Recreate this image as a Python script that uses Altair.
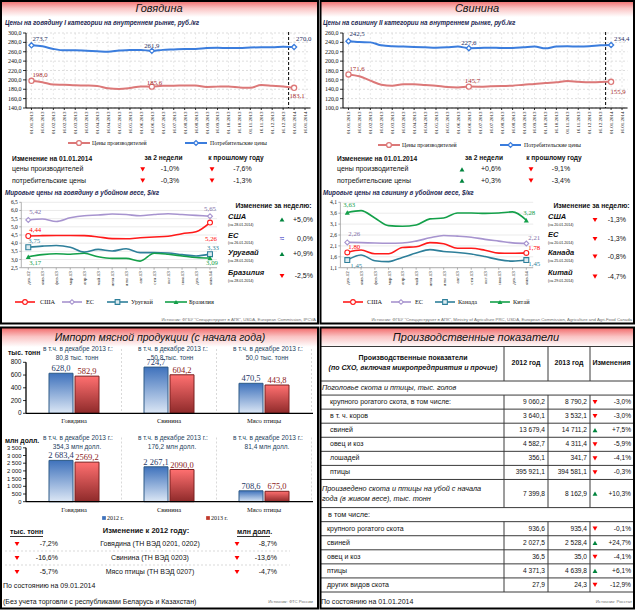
import altair as alt
import pandas as pd

W, H = 635, 612
SANS = "Liberation Sans, Arial, sans-serif"
NARROW = "Liberation Sans Narrow, Liberation Sans, Arial, sans-serif"
SERIF = "Liberation Serif, Times New Roman, serif"
INK = "#111111"
NAVY = "#1B2550"
RED = "#FF0000"
GREEN = "#00843D"
GRAY = "#707070"

# ------------------------------------------------------------------ data
price_dates = ["01.01.2013", "16.01.2013", "01.02.2013", "16.02.2013", "01.03.2013", "16.03.2013",
               "01.04.2013", "16.04.2013", "01.05.2013", "16.05.2013", "01.06.2013", "16.06.2013",
               "01.07.2013", "16.07.2013", "01.08.2013", "16.08.2013", "01.09.2013", "16.09.2013",
               "01.10.2013", "16.10.2013", "01.11.2013", "16.11.2013", "01.12.2013", "16.12.2013",
               "01.01.2014", "16.01.2014"]
beef_producer = [198.0, 195.0, 190.0, 189.5, 188.5, 188.0, 187.0, 182.0, 180.5, 182.5, 186.0, 185.6,
                 187.5, 187.5, 188.0, 188.0, 185.0, 185.6, 186.0, 184.0, 183.0, 189.0, 187.5, 186.0, 183.1]
beef_consumer = [273.7, 271.5, 266.0, 263.0, 263.0, 262.0, 261.0, 260.0, 262.5, 264.0, 264.0, 261.9,
                 264.0, 265.0, 266.0, 266.0, 268.0, 268.5, 268.0, 268.0, 269.0, 269.5, 269.5, 270.8, 270.0]
pork_producer = [171.6, 167.6, 158.3, 149.8, 147.6, 150.5, 150.5, 149.0, 147.6, 144.8, 144.0, 145.7,
                 145.5, 146.2, 147.0, 147.6, 149.8, 151.2, 153.3, 154.8, 157.6, 156.0, 154.8, 155.5, 155.9]
pork_consumer = [242.5, 240.8, 240.0, 233.7, 231.6, 231.0, 230.0, 229.4, 228.7, 229.4, 231.0, 227.6,
                 228.0, 228.7, 228.0, 228.0, 229.4, 231.0, 227.3, 231.0, 231.6, 231.0, 231.6, 233.7, 234.4]

months = ["дек.12", "янв.13", "фев.13", "мар.13", "апр.13", "май.13", "июн.13", "июл.13",
          "авг.13", "сен.13", "окт.13", "ноя.13", "дек.13", "янв.14"]
beef_usa = [4.44, 4.46, 4.47, 4.47, 4.46, 4.38, 4.28, 4.27, 4.33, 4.38, 4.42, 4.58, 4.70, 5.26]
beef_eu = [5.42, 5.48, 5.33, 5.55, 5.68, 5.72, 5.78, 5.75, 5.68, 5.75, 5.80, 5.75, 5.70, 5.65]
beef_uru = [3.75, 3.82, 3.86, 3.75, 3.45, 3.62, 3.52, 3.66, 3.42, 3.42, 3.40, 3.30, 3.22, 3.33]
beef_bra = [3.17, 3.30, 3.35, 3.32, 3.38, 3.17, 3.07, 3.07, 2.90, 3.38, 3.32, 3.22, 3.12, 3.09]
pork_usa = [1.80, 1.91, 1.74, 1.74, 2.03, 2.06, 2.25, 2.20, 1.99, 1.99, 1.90, 1.77, 1.76, 1.78]
pork_eu = [2.26, 2.25, 2.23, 2.22, 2.23, 2.32, 2.47, 2.58, 2.55, 2.50, 2.40, 2.32, 2.24, 2.21]
pork_can = [1.45, 1.68, 1.42, 1.38, 1.57, 1.77, 1.93, 1.84, 1.80, 1.73, 1.61, 1.47, 1.40, 1.45]
pork_china = [3.63, 3.72, 3.38, 3.03, 3.00, 3.06, 3.34, 3.38, 3.61, 3.61, 3.59, 3.61, 3.66, 3.28]

change_rows = ["цены производителей", "потребительские цены"]
beef_change_2w = [-1.0, -0.3]
beef_change_yoy = [-7.6, -1.3]
pork_change_2w = [0.6, 0.3]
pork_change_yoy = [-9.1, -3.4]

beef_countries = ["США", "ЕС", "Уругвай", "Бразилия"]
beef_week_change = [5.0, 0.0, 0.9, -2.5]
beef_week_dates = ["(на 28.01.2014)", "(на 26.01.2014)", "(на 28.01.2014)", "(на 28.01.2014)"]
pork_countries = ["США", "ЕС", "Канада", "Китай"]
pork_week_change = [-1.3, -1.3, -0.8, -4.7]
pork_week_dates = ["(на 20.01.2014)", "(на 20.01.2014)", "(на 25.01.2014)", "(на 29.01.2014)"]

import_cats = ["Говядина", "Свинина", "Мясо птицы"]
import_t_2012 = [628.0, 724.7, 470.5]
import_t_2013 = [582.9, 604.2, 443.8]
import_usd_2012 = [2683.4, 2267.1, 708.6]
import_usd_2013 = [2569.2, 2090.0, 675.0]
dec_t = [80.8, 50.8, 50.0]
dec_usd = [354.3, 176.2, 81.4]
import_codes = ["Говядина (ТН ВЭД 0201, 0202)", "Свинина (ТН ВЭД 0203)", "Мясо птицы (ТН ВЭД 0207)"]
import_change_t = [-7.2, -16.6, -5.7]
import_change_usd = [-8.7, -13.6, -4.7]

herd_names = ["крупного рогатого скота, в том числе:", "в т. ч. коров", "свиней", "овец и коз", "лошадей", "птицы"]
herd_2012 = [9060.2, 3640.1, 13679.4, 4582.7, 356.1, 395921.1]
herd_2013 = [8790.2, 3532.1, 14711.2, 4311.4, 341.7, 394581.1]
herd_change = [-3.0, -3.0, 7.5, -5.9, -4.1, -0.3]
slaughter_total = [7399.8, 8162.9, 10.3]
slaughter_names = ["крупного рогатого скота", "свиней", "овец и коз", "птицы", "других видов скота"]
slaughter_2012 = [936.6, 2027.5, 36.5, 4371.3, 27.9]
slaughter_2013 = [935.4, 2528.4, 35.0, 4639.8, 24.3]
slaughter_change = [-0.1, 24.7, -4.1, 6.1, -12.9]


def ru(v, d=1, space=True, sign=False):
    s = f"{abs(v):,.{d}f}".replace(",", " " if space else "").replace(".", ",")
    if v < 0:
        s = "-" + s
    elif sign and v > 0:
        s = "+" + s
    return s


# ------------------------------------------------------------------ helpers
L = []
ONE = pd.DataFrame({"k": [0]})


def txt(s, x, y, size=7, color=INK, font=SANS, bold=False, italic=False, align="left", baseline="middle"):
    kw = dict(fontSize=size, font=font, align=align, baseline=baseline, color=color)
    if bold:
        kw["fontWeight"] = "bold"
    if italic:
        kw["fontStyle"] = "italic"
    L.append(alt.Chart(ONE).mark_text(**kw).encode(x=alt.value(x), y=alt.value(y), text=alt.value(s)))


def rule(x, y, x2, y2, color="#000", width=1.0, dash=None):
    kw = dict(color=color, strokeWidth=width)
    if dash:
        kw["strokeDash"] = dash
    L.append(alt.Chart(ONE).mark_rule(**kw).encode(x=alt.value(x), y=alt.value(y),
                                                   x2=alt.value(x2), y2=alt.value(y2)))


def rect(x, y, x2, y2, fill="white", opacity=1.0, stroke=None, width=1.0):
    kw = dict(fill=fill, fillOpacity=opacity)
    if stroke:
        kw.update(stroke=stroke, strokeWidth=width)
    L.append(alt.Chart(ONE).mark_rect(**kw).encode(x=alt.value(x), y=alt.value(y),
                                                   x2=alt.value(x2), y2=alt.value(y2)))


def sym(shape, x, y, color, size=24, fill=None, sw=1.0):
    kw = dict(shape=shape, size=size, filled=True, color=color, opacity=1)
    if fill:
        kw.update(fill=fill, stroke=color, strokeWidth=sw)
    L.append(alt.Chart(ONE).mark_point(**kw).encode(x=alt.value(x), y=alt.value(y)))


def tri(v, x, y, size=24):
    if v > 0:
        sym("triangle-up", x, y, GREEN, size)
    elif v < 0:
        sym("triangle-down", x, y, RED, size)
    else:
        txt("≈", x, y, size=8, color="#3030C0", align="center")


def band(x, y, x2, y2):
    grad = alt.LinearGradient(gradient="linear",
                              stops=[alt.GradientStop(color="#F26B6B", offset=0),
                                     alt.GradientStop(color="#FAC3C3", offset=0.45),
                                     alt.GradientStop(color="#FFFFFF", offset=1)],
                              x1=0, x2=0, y1=0, y2=1)
    L.append(alt.Chart(ONE).mark_rect(fill=grad).encode(x=alt.value(x), y=alt.value(y),
                                                        x2=alt.value(x2), y2=alt.value(y2)))


def y_axis(ys, ticks, labels, x_axis, font, size, tick_color="#000", tick_len=3, pad=1.5):
    """tick labels and tick marks of a left axis, positioned through the scale ys"""
    d = pd.DataFrame({"v": ticks, "t": labels})
    Y = alt.Y("v:Q", scale=ys, axis=None)
    return [
        alt.Chart(d).mark_rule(color=tick_color, strokeWidth=0.8)
        .encode(y=Y, x=alt.value(x_axis - tick_len), x2=alt.value(x_axis)),
        alt.Chart(d).mark_text(font=font, fontSize=size, align="right", baseline="middle", color=INK)
        .encode(y=Y, x=alt.value(x_axis - tick_len - pad), text="t:N"),
    ]


def x_axis(xs, field, cats, y_axis_px, font, size, angle=270, tick_len=2, pad=1.5, tick_color="#000",
           xoff=0.0):
    d = pd.DataFrame({field: cats})
    X = alt.X(f"{field}:N", scale=xs, axis=None)
    out = []
    if tick_len:
        out.append(alt.Chart(d).mark_rule(color=tick_color, strokeWidth=0.8, xOffset=xoff)
                   .encode(x=X, y=alt.value(y_axis_px), y2=alt.value(y_axis_px + tick_len)))
    if angle:
        out.append(alt.Chart(d).mark_text(font=font, fontSize=size, angle=angle, align="right",
                                          baseline="middle", color=INK)
                   .encode(x=X, y=alt.value(y_axis_px + tick_len + pad), text=f"{field}:N"))
    else:
        out.append(alt.Chart(d).mark_text(font=font, fontSize=size, align="center", baseline="top",
                                          color=INK)
                   .encode(x=X, y=alt.value(y_axis_px + pad), text=f"{field}:N"))
    return out


PROD_C, CONS_C = "#DC7878", "#3B7DDD"
PROD_L, CONS_L = "#A52A2A", "#1F2F5F"


def price_chart(prod, cons, xr, yr, ydom, ticks, lab):
    n = len(prod)
    df = pd.DataFrame({"d": price_dates[:n], "prod": prod, "cons": cons})
    xs = alt.Scale(type="point", domain=price_dates, range=list(xr), padding=0.5)
    ys = alt.Scale(type="linear", domain=list(ydom), range=[yr[0], yr[1]], nice=False, zero=False)
    X = alt.X("d:N", scale=xs, axis=None)
    sub = [
        alt.Chart(pd.DataFrame({"v": ticks})).mark_rule(color="#CFCFCF", strokeDash=[2, 2], strokeWidth=0.7)
        .encode(y=alt.Y("v:Q", scale=ys, axis=None), x=alt.value(xr[0]), x2=alt.value(xr[1])),
        alt.Chart(pd.DataFrame({"d": price_dates})).mark_rule(color="#DADADA", strokeDash=[2, 2], strokeWidth=0.6)
        .encode(x=X, y=alt.value(yr[1]), y2=alt.value(yr[0])),
    ]
    sub += y_axis(ys, ticks, [ru(t) for t in ticks], xr[0], SERIF, 6)
    sub += x_axis(xs, "d", price_dates, yr[0], SERIF, 5)
    step = (xr[1] - xr[0]) / len(price_dates)
    sub.append(alt.Chart(pd.DataFrame({"d": ["16.12.2013"]}))
               .mark_rule(color="#000", strokeDash=[3, 2], strokeWidth=1, xOffset=step / 2)
               .encode(x=X, y=alt.value(yr[1] - 1), y2=alt.value(yr[0])))
    for col, color, shape, lcolor in [("prod", PROD_C, "circle", PROD_L), ("cons", CONS_C, "diamond", CONS_L)]:
        Y = alt.Y(f"{col}:Q", scale=ys, axis=None)
        sub.append(alt.Chart(df).mark_line(interpolate="monotone", color=color, strokeWidth=2).encode(x=X, y=Y))
        idxs = [0, 11, n - 1]
        pts = df.iloc[idxs].copy()
        sub.append(alt.Chart(pts).mark_point(shape=shape, filled=True, fill="white", stroke=color,
                                             strokeWidth=1.3, size=26, opacity=1).encode(x=X, y=Y))
        for j, idx in enumerate(idxs):
            dx, dy, al = lab[col][j]
            p = df.iloc[[idx]].copy()
            p["t"] = ru(float(p[col].iloc[0]))
            sub.append(alt.Chart(p).mark_text(font=SERIF, fontSize=6.8, color=lcolor, dx=dx, dy=dy, align=al)
                       .encode(x=X, y=Y, text="t:N"))
    L.append(alt.layer(*sub))
    rule(xr[0], yr[1], xr[0], yr[0], "#000", 1)
    rule(xr[0], yr[0], xr[1], yr[0], "#000", 1)


WORLD_STYLE = [("#FF1A1A", "circle", "white"), ("#A794CF", "diamond", "white"),
               ("#2E7F9A", "square", "#DDEBF0"), ("#14A04A", "triangle-up", None)]
WORLD_LAB = ["#FF0000", "#7F6FA8", "#2E7F9A", "#14A04A"]


def world_chart(series, xr, yr, ydom, ticks, lab):
    xs = alt.Scale(type="point", domain=months, range=list(xr), padding=0.5)
    ys = alt.Scale(type="linear", domain=list(ydom), range=[yr[0], yr[1]], nice=False, zero=False)
    sub = [alt.Chart(pd.DataFrame({"v": ticks})).mark_rule(color="#E2E2E2", strokeWidth=0.7)
           .encode(y=alt.Y("v:Q", scale=ys, axis=None), x=alt.value(xr[0]), x2=alt.value(xr[1]))]
    sub += y_axis(ys, ticks, [ru(t) for t in ticks], xr[0], SERIF, 5.5, tick_color="#999", tick_len=2)
    sub += x_axis(xs, "m", months, yr[0], SERIF, 5, tick_color="#999")
    for k, vals in enumerate(series):
        color, shape, fill = WORLD_STYLE[k]
        df = pd.DataFrame({"m": months, "v": vals})
        X = alt.X("m:N", scale=xs, axis=None)
        Y = alt.Y("v:Q", scale=ys, axis=None)
        sub.append(alt.Chart(df).mark_line(interpolate="monotone", color=color, strokeWidth=1.6).encode(x=X, y=Y))
        pts = df.iloc[[0, len(vals) - 1]].copy()
        if fill:
            pm = alt.Chart(pts).mark_point(shape=shape, filled=True, fill=fill, stroke=color, strokeWidth=1.1,
                                           size=24, opacity=1)
        else:
            pm = alt.Chart(pts).mark_point(shape=shape, filled=True, color=color, size=26, opacity=1)
        sub.append(pm.encode(x=X, y=Y))
        for j, idx in enumerate([0, len(vals) - 1]):
            dx, dy, al = lab[k][j]
            p = df.iloc[[idx]].copy()
            p["t"] = ru(float(p["v"].iloc[0]), 2)
            sub.append(alt.Chart(p).mark_text(font=SERIF, fontSize=6.8, color=WORLD_LAB[k], dx=dx, dy=dy, align=al)
                       .encode(x=X, y=Y, text="t:N"))
    L.append(alt.layer(*sub))
    rule(xr[0], yr[1], xr[0], yr[0], "#A0A0A0", 0.8)
    rule(xr[0], yr[0], xr[1], yr[0], "#A0A0A0", 0.8)


BLUE_GRAD = alt.LinearGradient(gradient="linear",
                               stops=[alt.GradientStop(color="#3F72BC", offset=0),
                                      alt.GradientStop(color="#DCE7F5", offset=1)],
                               x1=0, x2=0, y1=0, y2=1)
RED_GRAD = alt.LinearGradient(gradient="linear",
                              stops=[alt.GradientStop(color="#FF7070", offset=0),
                                     alt.GradientStop(color="#8E2A2A", offset=1)],
                              x1=0, x2=0, y1=0, y2=1)


def bar_chart(v12, v13, l12, l13, dec_line, yr, ydom, ticks, tick_labels, ann_y, ylab_size):
    xr = (26.5, 311.5)
    xs = alt.Scale(type="band", domain=import_cats, range=list(xr), paddingInner=0, paddingOuter=0)
    ys = alt.Scale(type="linear", domain=list(ydom), range=[yr[0], yr[1]], nice=False, zero=False)
    df = pd.DataFrame({"c": import_cats, "v12": v12, "v13": v13, "l12": l12, "l13": l13,
                       "a1": ["в т.ч. в декабре 2013 г.:"] * 3, "a2": dec_line})
    X = alt.X("c:N", scale=xs, axis=None)
    sub = [
        alt.Chart(df).mark_rule(color="#C8C8C8", strokeDash=[2, 2], strokeWidth=0.7, xOffset=47.5)
        .encode(x=X, y=alt.value(ann_y[0]), y2=alt.value(yr[0])),
        alt.Chart(df).mark_bar(fill=BLUE_GRAD, stroke="#2E5A86", strokeWidth=1, width=24, xOffset=-13)
        .encode(x=X, y=alt.Y("v12:Q", scale=ys, axis=None)),
        alt.Chart(df).mark_bar(fill=RED_GRAD, stroke="#7A2020", strokeWidth=1, width=24, xOffset=13)
        .encode(x=X, y=alt.Y("v13:Q", scale=ys, axis=None)),
        alt.Chart(df).mark_text(font=SERIF, fontSize=8.5, color="#1F3864", dy=-5, xOffset=-13)
        .encode(x=X, y=alt.Y("v12:Q", scale=ys, axis=None), text="l12:N"),
        alt.Chart(df).mark_text(font=SERIF, fontSize=8.5, color="#8B1A1A", dy=-5, xOffset=13)
        .encode(x=X, y=alt.Y("v13:Q", scale=ys, axis=None), text="l13:N"),
        alt.Chart(df).mark_text(font=NARROW, fontSize=6.5, color="#243F60", dx=4)
        .encode(x=X, y=alt.value(ann_y[0]), text="a1:N"),
        alt.Chart(df).mark_text(font=NARROW, fontSize=6.5, color="#243F60", dx=3)
        .encode(x=X, y=alt.value(ann_y[1]), text="a2:N"),
    ]
    sub += y_axis(ys, ticks, tick_labels, 26, SANS, ylab_size, tick_len=3, pad=1.5)
    sub += x_axis(xs, "c", import_cats, yr[0], SERIF, 6.5, angle=0, tick_len=0, pad=5)
    L.append(alt.layer(*sub))
    rule(26, yr[1], 26, yr[0], "#000", 1.3)
    rule(26, yr[0], 313, yr[0], "#000", 1.3)


# ------------------------------------------------------------------ backgrounds / bands
band(2, 1, 317, 17)
band(321, 1, 633, 17)
band(2, 328, 317, 347)
band(321, 328, 633, 347)

# ================================================================== TOP LEFT: beef
txt("Говядина", 159, 8.5, size=11, italic=True, align="center")
txt("Цены на говядину I категории на внутреннем рынке, руб./кг", 5, 23, size=6.3, bold=True, italic=True, color=NAVY)
price_chart(beef_producer, beef_consumer, (26, 310.5), (108, 33), (140, 300), list(range(140, 301, 20)),
            {"prod": [(1, -6, "left"), (-5, -4, "left"), (3, 8, "center")],
             "cons": [(1, -6, "left"), (0, -5, "center"), (2, -8, "left")]})
rule(68, 143, 90, 143, PROD_C, 2)
sym("circle", 79, 143, PROD_C, 24, fill="white", sw=1.3)
txt("Цены производителей", 92, 143, size=5.8, font=SERIF)
rule(185, 143, 207, 143, CONS_C, 2)
sym("diamond", 196, 143, CONS_C, 24, fill="white", sw=1.3)
txt("Потребительские цены", 210, 143, size=5.8, font=SERIF)

txt("Изменение на 01.01.2014", 12, 159, size=6.6, bold=True)
txt("за 2 недели", 163.5, 158, size=6.6, bold=True, align="center")
txt("к прошлому году", 236, 158, size=6.6, bold=True, align="center")
for r, (name, a, b) in enumerate(zip(change_rows, beef_change_2w, beef_change_yoy)):
    y = 169.3 + r * 11.4
    txt(name, 12, y, size=7)
    tri(a, 142.7, y)
    txt(ru(a, sign=True) + "%", 170, y, size=7, align="center")
    tri(b, 212, y)
    txt(ru(b, sign=True) + "%", 242.5, y, size=7, align="center")

txt("Мировые цены на говядину в убойном весе, $/кг", 5, 193, size=6.3, bold=True, italic=True, color=NAVY)
world_chart([beef_usa, beef_eu, beef_uru, beef_bra], (21.3, 217), (267.7, 202.3), (2.5, 6.5),
            [2.5, 3.0, 3.5, 4.0, 4.5, 5.0, 5.5, 6.0, 6.5],
            [[(1, -6, "left"), (1, 16, "center")],
             [(1, -8, "left"), (0, -7, "center")],
             [(0, -6, "left"), (3, -6, "center")],
             [(1, 6, "left"), (2, 5, "center")]])
txt("Изменение за неделю:", 273.5, 206, size=6.8, bold=True, align="center")
for k, (c, v, d) in enumerate(zip(beef_countries, beef_week_change, beef_week_dates)):
    ny = [217, 235.5, 253, 273][k]
    sy = [219.5, 239, 254, 276][k]
    txt(c, 228, ny, size=7.5, bold=True, italic=True)
    txt(d, 228, ny + 7.5, size=3.6)
    tri(v, 282, sy)
    txt(ru(v, sign=True) + "%", 313, sy, size=7, align="right")
leg_beef = [(15, 35, 40), (62, 82, 86), (107, 128, 131), (165, 187, 189)]
for k, name in enumerate(beef_countries):
    a, b, t = leg_beef[k]
    color, shape, fill = WORLD_STYLE[k]
    rule(a, 302, b, 302, color, 1.6)
    if fill:
        sym(shape, (a + b) / 2, 302, color, 22, fill=fill, sw=1.1)
    else:
        sym(shape, (a + b) / 2, 302, color, 24)
    txt(name, t, 302, size=6.3, font=SERIF)
txt('Источник: ФГБУ "Спеццентручет в АПК", USDA, European Commission, IPCVA', 316, 320, size=4.3,
    color=GRAY, align="right")

# ================================================================== TOP RIGHT: pork
txt("Свинина", 477, 8.5, size=11, italic=True, align="center")
txt("Цены на свинину II категории на внутреннем рынке, руб./кг", 323, 23, size=6.3, bold=True, italic=True,
    color=NAVY)
price_chart(pork_producer, pork_consumer, (343, 627.5), (108, 33), (100, 260), list(range(100, 261, 20)),
            {"prod": [(1, -5, "left"), (-4, -6, "left"), (7, 10, "center")],
             "cons": [(1, -7, "left"), (0, -5, "center"), (3, -6, "left")]})
rule(378, 145, 400, 145, PROD_C, 2)
sym("circle", 389, 145, PROD_C, 24, fill="white", sw=1.3)
txt("Цены производителей", 402, 145, size=5.8, font=SERIF)
rule(500, 145, 521, 145, CONS_C, 2)
sym("diamond", 510.5, 145, CONS_C, 24, fill="white", sw=1.3)
txt("Потребительские цены", 524, 145, size=5.8, font=SERIF)

txt("Изменение на 01.01.2014", 337, 159, size=6.6, bold=True)
txt("за 2 недели", 484, 158, size=6.6, bold=True, align="center")
txt("к прошлому году", 554, 158, size=6.6, bold=True, align="center")
for r, (name, a, b) in enumerate(zip(change_rows, pork_change_2w, pork_change_yoy)):
    y = 169.3 + r * 11.4
    txt(name, 337, y, size=7)
    tri(a, 462, y)
    txt(ru(a, sign=True) + "%", 491, y, size=7, align="center")
    tri(b, 531, y)
    txt(ru(b, sign=True) + "%", 561, y, size=7, align="center")

txt("Мировые цены на свинину в убойном весе, $/кг", 323, 193, size=6.3, bold=True, italic=True, color=NAVY)
world_chart([pork_usa, pork_eu, pork_can, pork_china], (340.4, 533.2), (267.7, 202.3), (1.1, 4.1),
            [1.1, 1.6, 2.1, 2.6, 3.1, 3.6, 4.1],
            [[(1, -5, "left"), (2, -5, "left")],
             [(1, -8, "left"), (2, -6, "left")],
             [(3, 6, "left"), (2, 4, "left")],
             [(2, -8, "center"), (3, -7, "center")]])
txt("Изменение за неделю:", 591.5, 206, size=6.8, bold=True, align="center")
for k, (c, v, d) in enumerate(zip(pork_countries, pork_week_change, pork_week_dates)):
    ny = [217, 235, 253.3, 273.3][k]
    sy = [220, 239, 256.7, 276.7][k]
    txt(c, 548, ny, size=7.5, bold=True, italic=True)
    txt(d, 548, ny + 8, size=3.6)
    tri(v, 595, sy)
    txt(ru(v, sign=True) + "%", 626, sy, size=7, align="right")
leg_pork = [(343, 363, 367), (391, 411, 415), (435, 455, 458), (490, 510, 513)]
for k, name in enumerate(pork_countries):
    a, b, t = leg_pork[k]
    color, shape, fill = WORLD_STYLE[k]
    rule(a, 302, b, 302, color, 1.6)
    if fill:
        sym(shape, (a + b) / 2, 302, color, 22, fill=fill, sw=1.1)
    else:
        sym(shape, (a + b) / 2, 302, color, 24)
    txt(name, t, 302, size=6.3, font=SERIF)
txt('Источник: ФГБУ "Спеццентручет в АПК", Ministry of Agriculture PRC, USDA, European Commission, '
    'Agriculture and Agri-Food Canada', 632, 320, size=4.3, color=GRAY, align="right")

# ================================================================== BOTTOM LEFT: imports
txt("Импорт мясной продукции (с начала года)", 160, 337.5, size=10.5, italic=True, align="center")
txt("тыс. тонн", 8, 353, size=6.8, bold=True)
bar_chart(import_t_2012, import_t_2013, [ru(v) for v in import_t_2012], [ru(v) for v in import_t_2013],
          [ru(v) + " тыс. тонн" for v in dec_t], (413.3, 362.3), (0, 800), [0, 200, 400, 600, 800],
          ["0", "200", "400", "600", "800"], (349, 357.5), 6.5)
txt("млн долл.", 5, 441, size=6.8, bold=True)
usd_ticks = list(range(0, 3501, 500))
bar_chart(import_usd_2012, import_usd_2013, [ru(v) for v in import_usd_2012],
          [ru(v, space=False) for v in import_usd_2013],
          [ru(v) + " млн долл." for v in dec_usd], (501.7, 447.8), (0, 3500), usd_ticks,
          [ru(t, 0) for t in usd_ticks], (437.5, 447), 5.8)
sym("square", 104, 518, "#3F72BC", 14)
txt("2012 г.", 107, 518, size=6, font=SERIF)
sym("square", 208, 518, "#C0392B", 14)
txt("2013 г.", 211, 518, size=6, font=SERIF)

txt("тыс. тонн", 10, 531.5, size=7, bold=True)
rule(10, 536.5, 43, 536.5, "#000", 0.8)
txt("Изменение к 2012 году:", 146, 531, size=7.5, bold=True, align="center")
txt("млн долл.", 237, 531.5, size=7, bold=True)
rule(237, 536.5, 270, 536.5, "#000", 0.8)
for r, (code, a, b) in enumerate(zip(import_codes, import_change_t, import_change_usd)):
    y = 544 + r * 14
    tri(a, 17, y)
    txt(ru(a) + "%", 58, y, size=7, align="right")
    txt(code, 150, y, size=7, align="center")
    tri(b, 237, y)
    txt(ru(b) + "%", 277, y, size=7, align="right")
rule(5, 551, 290, 551, "#C8C8C8", 0.7, [2, 2])
rule(5, 565, 290, 565, "#C8C8C8", 0.7, [2, 2])
txt("По состоянию на 09.01.2014", 3, 586, size=7)
txt("(Без учета торговли с республиками Беларусь и Казахстан)", 3, 602, size=7)
txt("Источник: ФТС России", 313, 602, size=4.3, color=GRAY, align="right")

# ================================================================== BOTTOM RIGHT: production table
txt("Производственные показатели", 476, 337.5, size=11, italic=True, align="center")
LINE = "#3A3A3A"
rule(321, 346.5, 633, 346.5, LINE, 1)
for x in [504, 548, 590]:
    rule(x, 346.5, x, 381, LINE, 1)
txt("Производственные показатели", 413, 358, size=7, bold=True, align="center")
txt("(по СХО, включая микропредприятия и прочие)", 413, 368, size=7, bold=True, italic=True, align="center")
txt("2012 год", 526, 363, size=7, bold=True, align="center")
txt("2013 год", 569, 363, size=7, bold=True, align="center")
txt("Изменения", 611.5, 363, size=7, bold=True, align="center")

tys = alt.Scale(type="linear", domain=[0, 15], range=[381, 592], nice=False, zero=False)
TY = lambda f: alt.Y(f, scale=tys, axis=None)
tab = pd.DataFrame({
    "name": herd_names + ["", ] + slaughter_names,
    "slot": [1.5, 2.5, 3.5, 4.5, 5.5, 6.5, 8.0, 10.5, 11.5, 12.5, 13.5, 14.5],
    "a": [ru(v) for v in herd_2012] + [ru(slaughter_total[0])] + [ru(v) for v in slaughter_2012],
    "b": [ru(v) for v in herd_2013] + [ru(slaughter_total[1])] + [ru(v) for v in slaughter_2013],
    "chg": herd_change + [slaughter_total[2]] + slaughter_change,
})
tab["c"] = [ru(v, sign=True) + "%" for v in tab["chg"]]
tab["part"] = ["h"] * 6 + ["p"] + ["s"] * 5
bounds = pd.DataFrame({"s": [0, 1, 2, 3, 4, 5, 6, 7, 9, 10, 11, 12, 13, 14, 15]})
segs = pd.DataFrame({"s1": [1, 10], "s2": [9, 15]})
secs = pd.DataFrame({"slot": [0.5, 9.5], "t": ["Поголовье скота и птицы, тыс. голов", "в том числе:"],
                     "it": [True, False]})
tsub = [
    alt.Chart(bounds).mark_rule(color=LINE, strokeWidth=1)
    .encode(y=TY("s:Q"), x=alt.value(321), x2=alt.value(633)),
]
for x in [504, 548, 590]:
    tsub.append(alt.Chart(segs).mark_rule(color=LINE, strokeWidth=1)
                .encode(x=alt.value(x), y=TY("s1:Q"), y2=alt.Y2("s2:Q")))
tsub += [
    alt.Chart(tab[tab.part == "h"]).mark_text(font=SANS, fontSize=7, align="left", color=INK)
    .encode(x=alt.value(330), y=TY("slot:Q"), text="name:N"),
    alt.Chart(tab[tab.part == "s"]).mark_text(font=SANS, fontSize=7, align="left", color=INK)
    .encode(x=alt.value(327), y=TY("slot:Q"), text="name:N"),
    alt.Chart(tab).mark_text(font=SANS, fontSize=6.6, align="right", color=INK)
    .encode(x=alt.value(545), y=TY("slot:Q"), text="a:N"),
    alt.Chart(tab).mark_text(font=SANS, fontSize=6.6, align="right", color=INK)
    .encode(x=alt.value(587), y=TY("slot:Q"), text="b:N"),
    alt.Chart(tab).mark_text(font=SANS, fontSize=6.6, align="right", color=INK)
    .encode(x=alt.value(631), y=TY("slot:Q"), text="c:N"),
    alt.Chart(tab[tab.chg < 0]).mark_point(shape="triangle-down", filled=True, color=RED, size=24, opacity=1)
    .encode(x=alt.value(595), y=TY("slot:Q")),
    alt.Chart(tab[tab.chg > 0]).mark_point(shape="triangle-up", filled=True, color=GREEN, size=24, opacity=1)
    .encode(x=alt.value(595), y=TY("slot:Q")),
    alt.Chart(secs[secs.it]).mark_text(font=SANS, fontSize=7.3, fontStyle="italic", align="left", color=INK)
    .encode(x=alt.value(322), y=TY("slot:Q"), text="t:N"),
    alt.Chart(secs[~secs.it]).mark_text(font=SANS, fontSize=7.3, align="left", color=INK)
    .encode(x=alt.value(328), y=TY("slot:Q"), text="t:N"),
    alt.Chart(tab[tab.part == "p"]).mark_text(font=SANS, fontSize=7.3, fontStyle="italic", align="left",
                                                color=INK, dy=-5)
    .encode(x=alt.value(322), y=TY("slot:Q"), text=alt.value("Произведено скота и птицы на убой с начала")),
    alt.Chart(tab[tab.part == "p"]).mark_text(font=SANS, fontSize=7.3, fontStyle="italic", align="left",
                                                color=INK, dy=5)
    .encode(x=alt.value(322), y=TY("slot:Q"), text=alt.value("года (в живом весе), тыс. тонн")),
]
L.append(alt.layer(*tsub))
txt("По состоянию на 01.01.2014", 321, 602, size=7)
txt("Источник: Росстат", 632, 602, size=4.3, color=GRAY, align="right")

# ------------------------------------------------------------------ box borders
rect(1, 1, 318, 323.5, fill="white", opacity=0, stroke="#000", width=2)
rect(320.5, 1, 634, 323.5, fill="white", opacity=0, stroke="#000", width=2)
rect(1, 327.5, 318, 608.5, fill="white", opacity=0, stroke="#000", width=2)
rect(320.5, 327.5, 634, 608.5, fill="white", opacity=0, stroke="#000", width=2)

chart = (alt.layer(*L)
         .resolve_scale(x="independent", y="independent")
         .properties(width=W, height=H, autosize=alt.AutoSizeParams(type="none"), padding=0,
                     background="white")
         .configure_view(stroke=None))

chart.save("out.html", embed_options={"renderer": "svg", "actions": False})
